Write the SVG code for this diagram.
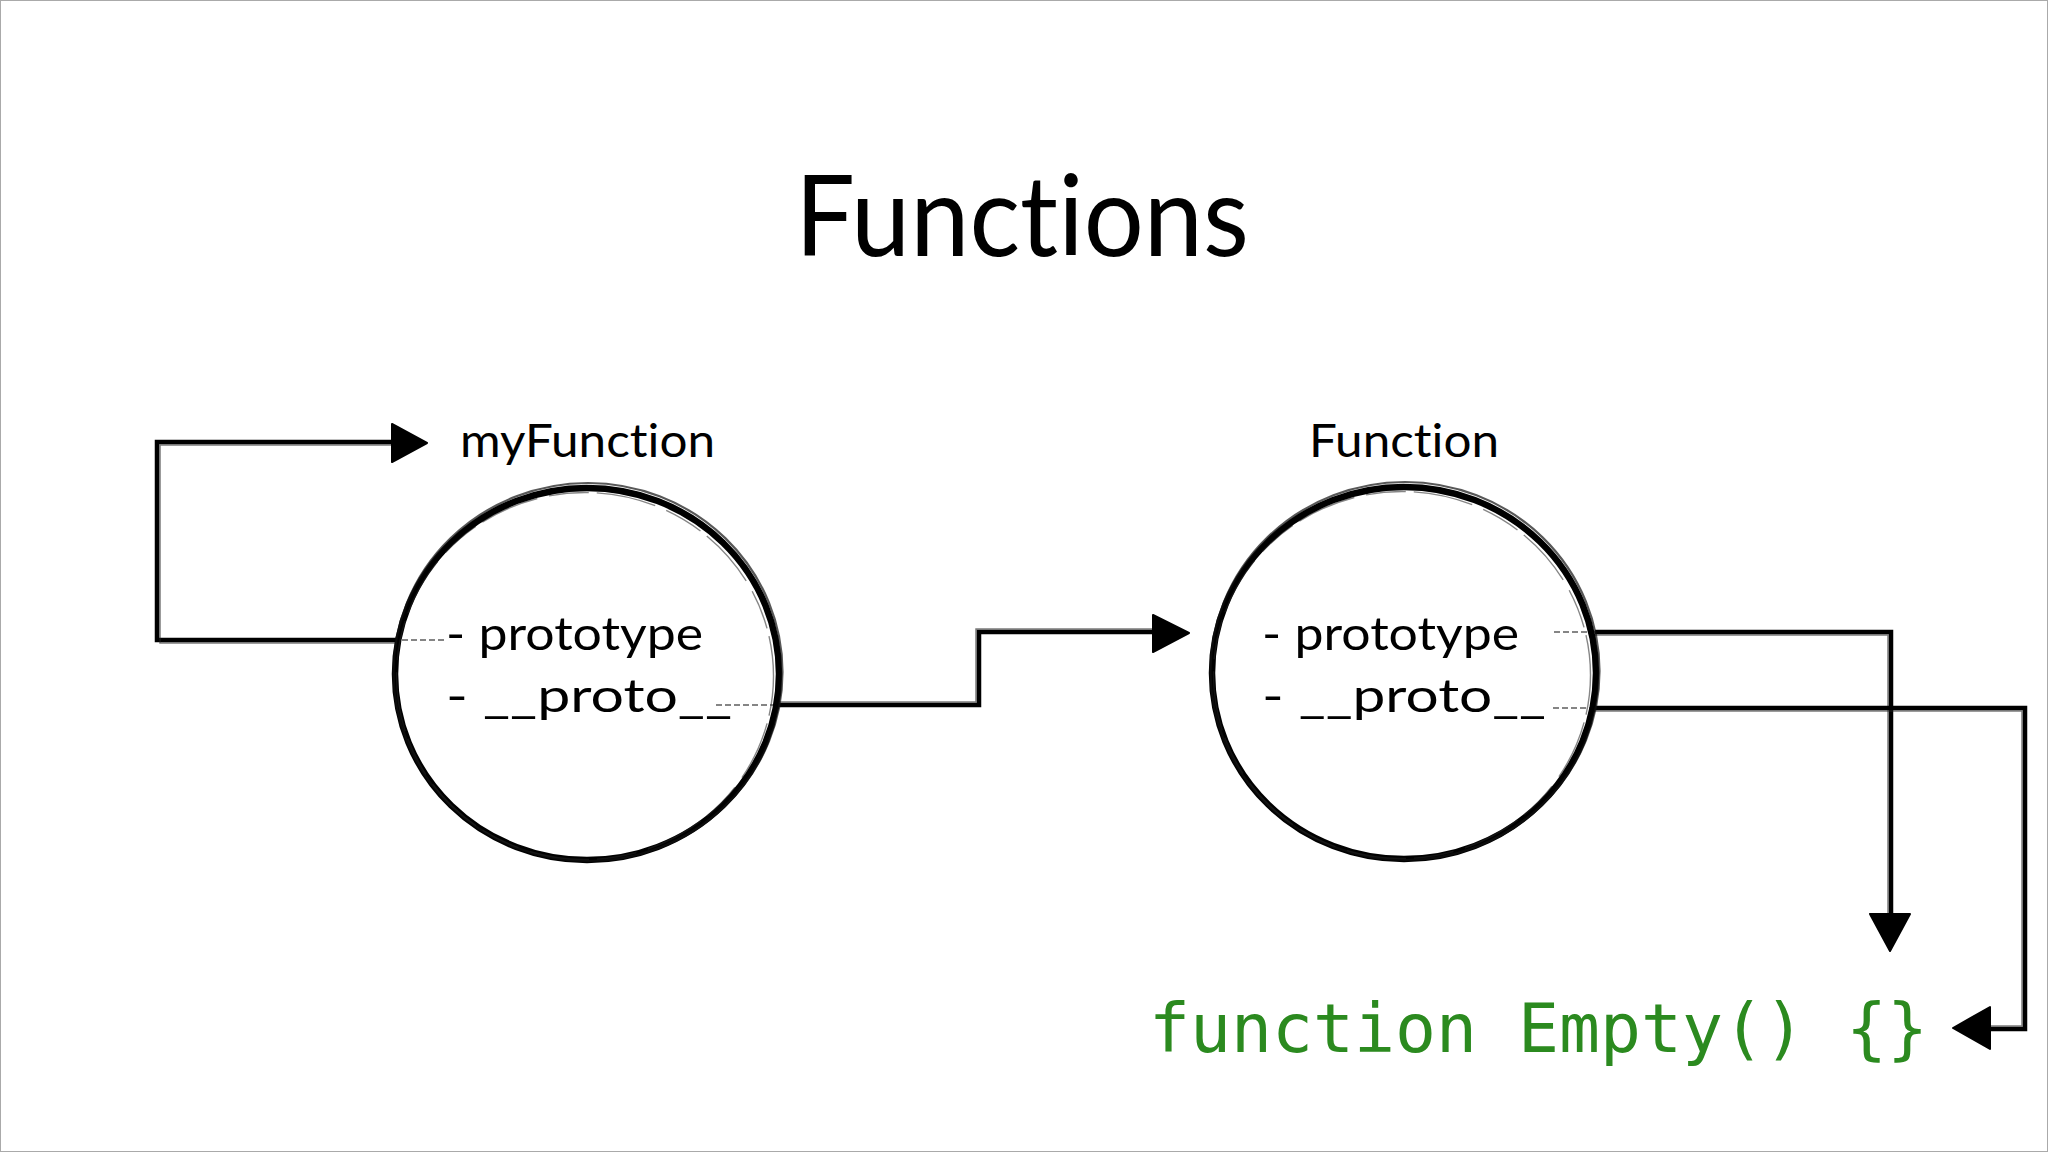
<svg xmlns="http://www.w3.org/2000/svg" width="2048" height="1152" viewBox="0 0 2048 1152">
  <defs>
    <style>
      .title { font-family: Lato, "Open Sans", "Liberation Sans", sans-serif; font-size: 112px; fill: #000; font-variant-ligatures: none; font-feature-settings: "liga" 0, "clig" 0; }
      .label { font-family: Lato, "Open Sans", "Liberation Sans", sans-serif; font-size: 46px; fill: #000; font-variant-ligatures: none; font-feature-settings: "liga" 0, "clig" 0; }
      .code { font-family: "DejaVu Sans Mono", "Liberation Mono", monospace; font-size: 68px; fill: #2b8a1f; }
      .ring { fill: none; stroke: #000; stroke-width: 6.5; }
      .ring2 { fill: none; stroke: #111; stroke-width: 2.2; opacity: 0.7; }
      .ring3 { fill: none; stroke: #222; stroke-width: 1.4; opacity: 0.55; stroke-dasharray: 40 8 60 12; }
      .wire { fill: none; stroke: #000; stroke-width: 4.5; stroke-linejoin: miter; }
      .wire2 { fill: none; stroke: #222; stroke-width: 1.5; opacity: 0.6; }
      .faint { fill: none; stroke: #333; stroke-width: 2; opacity: 0.6; stroke-dasharray: 6 3; }
      .head { fill: #000; stroke: #000; stroke-width: 2; stroke-linejoin: round; }
    </style>
  </defs>
  <rect x="0.5" y="0.5" width="2047" height="1151" fill="#fff" stroke="#aaa" stroke-width="1"/>

  <text class="title" x="795" y="256" textLength="454" lengthAdjust="spacingAndGlyphs">Functions</text>

  <g id="connectors">
    <!-- myFunction.prototype -> myFunction -->
    <g id="conn-self">
      <path class="faint" d="M 444 640 H 396"/>
      <path class="wire" d="M 397 640 H 157 V 442 H 394"/>
      <path class="wire2" d="M 397 643 H 160 V 445 H 392"/>
      <polygon class="head" points="392,424 427,443 392,462"/>
    </g>
    <!-- myFunction.__proto__ -> Function -->
    <g id="conn-proto1">
      <path class="faint" d="M 716 705 H 777"/>
      <path class="wire" d="M 776 705 H 979 V 632 H 1155"/>
      <path class="wire2" d="M 776 702 H 976 V 629 H 1153"/>
      <polygon class="head" points="1153,615 1189,633 1153,652"/>
    </g>
    <!-- Function.prototype -> Empty -->
    <g id="conn-prototype2">
      <path class="faint" d="M 1554 632 H 1596"/>
      <path class="wire" d="M 1595 632 H 1891 V 916"/>
      <path class="wire2" d="M 1595 635 H 1888 V 914"/>
      <polygon class="head" points="1870,914 1910,914 1890,951"/>
    </g>
    <!-- Function.__proto__ -> Empty -->
    <g id="conn-proto2">
      <path class="faint" d="M 1553 708 H 1594"/>
      <path class="wire" d="M 1593 708 H 2025 V 1029 H 1990"/>
      <path class="wire2" d="M 1593 711 H 2022 V 1026 H 1990"/>
      <polygon class="head" points="1990,1007 1990,1049 1953,1028"/>
    </g>
  </g>

  <g id="node-myFunction">
    <text class="label" x="460" y="457" textLength="255" lengthAdjust="spacingAndGlyphs">myFunction</text>
    <ellipse class="ring" cx="587" cy="674" rx="192" ry="186"/>
    <ellipse class="ring2" cx="588" cy="672" rx="194.5" ry="189"/>
    <ellipse class="ring3" cx="585" cy="676" rx="188.5" ry="183.5"/>
    <text class="label" x="446" y="650" textLength="257" lengthAdjust="spacingAndGlyphs">- prototype</text>
    <text class="label" x="446" y="712" textLength="286" lengthAdjust="spacingAndGlyphs">- __proto__</text>
  </g>

  <g id="node-Function">
    <text class="label" x="1309" y="457" textLength="190" lengthAdjust="spacingAndGlyphs">Function</text>
    <ellipse class="ring" cx="1404" cy="673" rx="192" ry="186"/>
    <ellipse class="ring2" cx="1405" cy="671" rx="194.5" ry="189"/>
    <ellipse class="ring3" cx="1402" cy="675" rx="188.5" ry="183.5"/>
    <text class="label" x="1262" y="650" textLength="257" lengthAdjust="spacingAndGlyphs">- prototype</text>
    <text class="label" x="1262" y="712" textLength="284" lengthAdjust="spacingAndGlyphs">- __proto__</text>
  </g>

  <g id="node-Empty">
    <text class="code" x="1149" y="1052" textLength="779" lengthAdjust="spacingAndGlyphs">function Empty() {}</text>
  </g>
</svg>
